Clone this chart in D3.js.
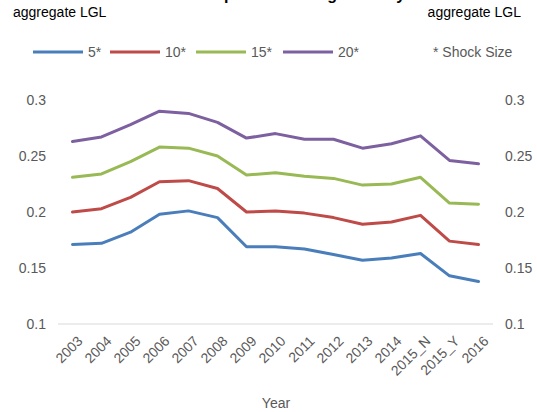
<!DOCTYPE html>
<html>
<head>
<meta charset="utf-8">
<script src="https://cdn.jsdelivr.net/npm/d3@7"></script>
<style>
  html, body { margin: 0; padding: 0; background: #fff; }
  svg { display: block; font-family: "Liberation Sans", Arial, sans-serif; }
</style>
</head>
<body>
<svg id="chart" width="537" height="412"></svg>
<script>
// Categories (years) along the x axis
const years = ["2003","2004","2005","2006","2007","2008","2009","2010","2011","2012","2013","2014","2015_N","2015_Y","2016"];

// Aggregate LGL per shock size
const shock5  = [0.171,0.172,0.182,0.198,0.201,0.195,0.169,0.169,0.167,0.162,0.157,0.159,0.163,0.143,0.138];
const shock10 = [0.200,0.203,0.213,0.227,0.228,0.221,0.200,0.201,0.199,0.195,0.189,0.191,0.197,0.174,0.171];
const shock15 = [0.231,0.234,0.245,0.258,0.257,0.250,0.233,0.235,0.232,0.230,0.224,0.225,0.231,0.208,0.207];
const shock20 = [0.263,0.267,0.278,0.290,0.288,0.280,0.266,0.270,0.265,0.265,0.257,0.261,0.268,0.246,0.243];

const seriesNames = ["5*", "10*", "15*", "20*"];
const yTicks = [0.1, 0.15, 0.2, 0.25, 0.3];

const series = [
  { name: seriesNames[0], values: shock5,  color: "#4a7ebb" },
  { name: seriesNames[1], values: shock10, color: "#be4b48" },
  { name: seriesNames[2], values: shock15, color: "#98b954" },
  { name: seriesNames[3], values: shock20, color: "#7d60a0" }
];

const svg = d3.select("#chart");
const textGrey = "#595959";

const x = d3.scaleBand().domain(years).range([58, 493]);
const y = d3.scaleLinear().domain([0.1, 0.3]).range([324, 100]);

// Title (sits at the very top edge)
svg.append("text")
  .attr("x", 298).attr("y", 0)
  .attr("text-anchor", "middle")
  .attr("font-size", 16).attr("font-weight", "bold")
  .attr("fill", "#000")
  .text("Shock impact on average LGL by Year");

// Axis titles for both y axes
svg.append("text").attr("x", 13).attr("y", 17)
  .attr("font-size", 14).attr("fill", "#000").text("aggregate LGL");
svg.append("text").attr("x", 521).attr("y", 17).attr("text-anchor", "end")
  .attr("font-size", 14).attr("fill", "#000").text("aggregate LGL");

// Legend
const legend = svg.append("g");
const legendX = [33, 110, 196, 283];
series.forEach((s, i) => {
  legend.append("line")
    .attr("x1", legendX[i]).attr("x2", legendX[i] + 50)
    .attr("y1", 52).attr("y2", 52)
    .attr("stroke", s.color).attr("stroke-width", 3);
  legend.append("text")
    .attr("x", legendX[i] + 55).attr("y", 57)
    .attr("font-size", 14).attr("fill", textGrey)
    .text(s.name);
});
legend.append("text").attr("x", 433).attr("y", 57)
  .attr("font-size", 14).attr("fill", textGrey).text("* Shock Size");

// Baseline
svg.append("line")
  .attr("x1", x.range()[0]).attr("x2", x.range()[1])
  .attr("y1", y(0.1)).attr("y2", y(0.1))
  .attr("stroke", "#d9d9d9").attr("stroke-width", 1);

// Left y axis
const fmt = d => String(+d.toFixed(2));
const leftAxis = svg.append("g")
  .attr("transform", "translate(52,0)")
  .call(d3.axisLeft(y).tickValues(yTicks).tickFormat(fmt).tickSize(0).tickPadding(6));
leftAxis.select(".domain").remove();
leftAxis.selectAll("text").attr("font-size", 14).attr("fill", textGrey)
  .attr("font-family", "Liberation Sans, Arial, sans-serif");

// Right y axis
const rightAxis = svg.append("g")
  .attr("transform", "translate(499,0)")
  .call(d3.axisRight(y).tickValues(yTicks).tickFormat(fmt).tickSize(0).tickPadding(6));
rightAxis.select(".domain").remove();
rightAxis.selectAll("text").attr("font-size", 14).attr("fill", textGrey)
  .attr("font-family", "Liberation Sans, Arial, sans-serif");

// X axis with rotated labels
const xAxis = svg.append("g")
  .attr("transform", `translate(0,${y(0.1) + 4})`)
  .call(d3.axisBottom(x).tickSize(0).tickPadding(0));
xAxis.select(".domain").remove();
xAxis.selectAll("text")
  .attr("font-size", 14).attr("fill", textGrey)
  .attr("font-family", "Liberation Sans, Arial, sans-serif")
  .attr("text-anchor", "end")
  .attr("dy", "0.7em")
  .attr("transform", "translate(4,7) rotate(-45)");

svg.append("text")
  .attr("x", 276).attr("y", 408)
  .attr("text-anchor", "middle")
  .attr("font-size", 14).attr("fill", textGrey)
  .text("Year");

// Lines
const line = d3.line()
  .x((d, i) => x(years[i]) + x.bandwidth() / 2)
  .y(d => y(d));

svg.append("g").selectAll("path")
  .data(series)
  .join("path")
  .attr("d", s => line(s.values))
  .attr("fill", "none")
  .attr("stroke", s => s.color)
  .attr("stroke-width", 3)
  .attr("stroke-linejoin", "round")
  .attr("stroke-linecap", "round");
</script>
</body>
</html>
